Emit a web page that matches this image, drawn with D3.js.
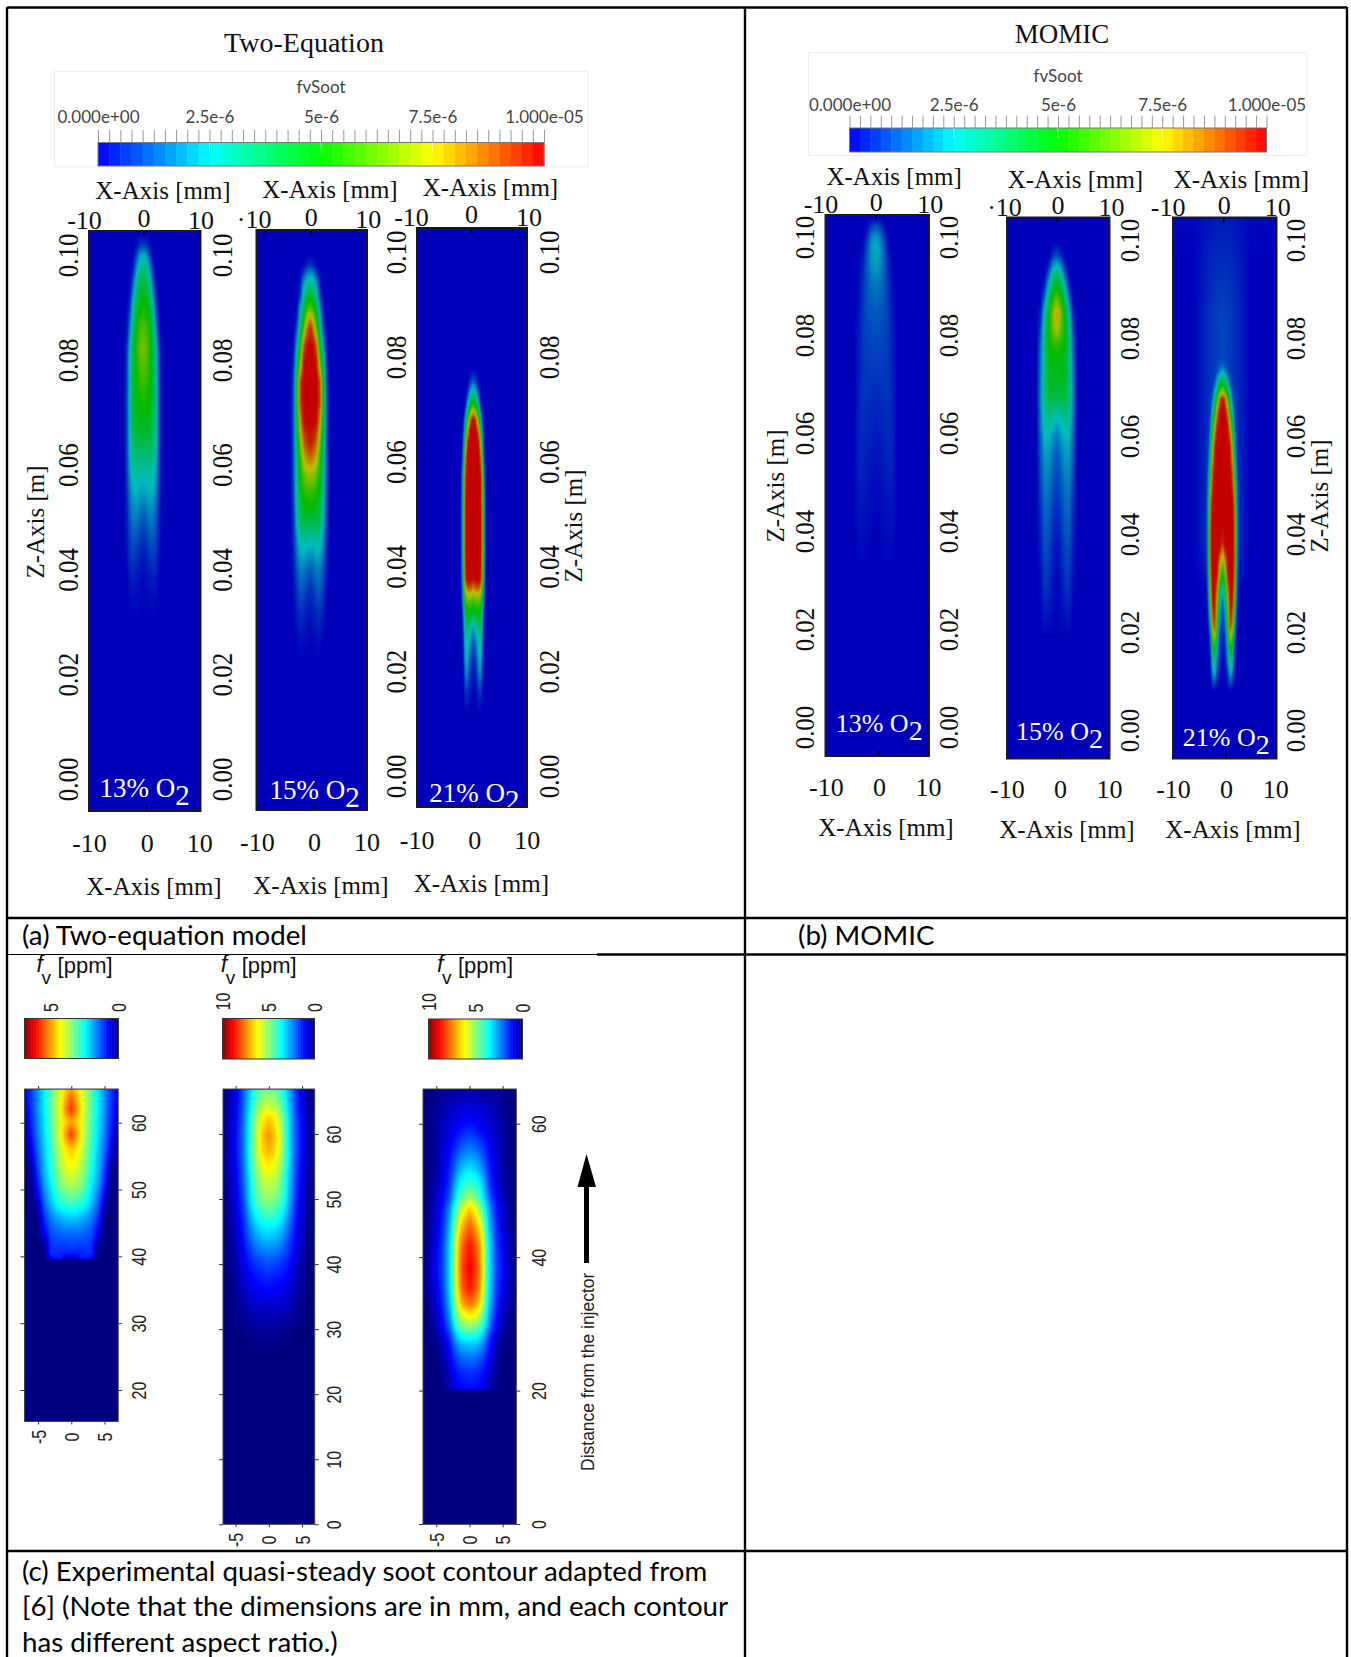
<!DOCTYPE html>
<html>
<head>
<meta charset="utf-8">
<script src="https://cdn.jsdelivr.net/npm/d3@7"></script>
<style>
  body { margin: 0; background: #fff; }
  svg { display: block; }
  text { fill: #111; }
  .serif text, text.serif { font-family: "Liberation Serif", serif; font-size: 25px; }
  .sans text, text.sans { font-family: "Liberation Sans", sans-serif; font-size: 16px; fill: #222; }
  .lato { font-family: Lato, sans-serif; font-size: 27.7px; fill: #000; }
  .legend text { font-family: Lato, sans-serif; font-size: 17px; fill: #444; }
  .domain { display: none; }
</style>
</head>
<body>
<script>
// values, soot volume fraction as a share of the colour bar
// radial stops in mm, height stops in m (model) or mm (experiment)

var legendTicks = [0, 2.5e-6, 5e-6, 7.5e-6, 1e-5];
var legendLabels = ["0.000e+00", "2.5e-6", "5e-6", "7.5e-6", "1.000e-05"];
var zTicks = [0, 0.02, 0.04, 0.06, 0.08, 0.1];
var mmTicks = [-10, 0, 10];
var o2Labels = ["13% O", "15% O", "21% O"];

var rA1 = [0, 0.6, 1.2, 1.8, 2.4, 3.0, 3.6, 4.4];
var zA1 = [.104, .102, .100, .098, .096, .093, .090, .086, .082, .078, .074, .070, .066, .062, .058, .054, .050, .046, .042, .038, .034, .030];
var vA1 = [
  [0, 0, 0, 0, 0, 0, 0, 0],
  [.08, .06, .02, 0, 0, 0, 0, 0],
  [.24, .2, .08, .01, 0, 0, 0, 0],
  [.33, .3, .17, .03, 0, 0, 0, 0],
  [.4, .37, .26, .08, 0, 0, 0, 0],
  [.46, .44, .36, .18, .02, 0, 0, 0],
  [.52, .5, .43, .29, .07, 0, 0, 0],
  [.61, .58, .5, .37, .17, .01, 0, 0],
  [.66, .63, .54, .42, .26, .05, 0, 0],
  [.6, .58, .52, .42, .27, .06, 0, 0],
  [.55, .54, .5, .42, .28, .07, 0, 0],
  [.5, .5, .48, .41, .28, .07, 0, 0],
  [.44, .44, .43, .39, .27, .07, 0, 0],
  [.35, .36, .37, .34, .24, .07, 0, 0],
  [.26, .27, .29, .28, .2, .06, 0, 0],
  [.2, .21, .23, .22, .16, .04, 0, 0],
  [.12, .14, .17, .17, .12, .03, 0, 0],
  [.07, .08, .11, .12, .09, .02, 0, 0],
  [.03, .04, .06, .08, .06, .01, 0, 0],
  [.01, .02, .03, .04, .03, 0, 0, 0],
  [0, .01, .01, .015, .01, 0, 0, 0],
  [0, 0, 0, 0, 0, 0, 0, 0]
];

var rA2 = [0, 0.6, 1.2, 1.8, 2.4, 3.0, 3.6, 4.4];
var zA2 = [.100, .098, .0965, .0945, .092, .090, .088, .086, .083, .080, .076, .072, .068, .064, .061, .058, .055, .052, .049, .046, .043, .040, .036, .032, .028, .025, .022];
var vA2 = [
  [0, 0, 0, 0, 0, 0, 0, 0],
  [.08, .05, .01, 0, 0, 0, 0, 0],
  [.2, .17, .08, .01, 0, 0, 0, 0],
  [.33, .3, .2, .03, 0, 0, 0, 0],
  [.47, .42, .3, .08, 0, 0, 0, 0],
  [.62, .55, .4, .2, .01, 0, 0, 0],
  [.82, .7, .47, .28, .04, 0, 0, 0],
  [.95, .85, .58, .35, .1, 0, 0, 0],
  [1, .98, .85, .45, .22, .01, 0, 0],
  [1, 1, .97, .6, .33, .04, 0, 0],
  [1, 1, 1, .9, .45, .09, 0, 0],
  [1, 1, 1, .92, .47, .11, 0, 0],
  [1, 1, .98, .78, .42, .11, 0, 0],
  [.96, .93, .85, .62, .38, .1, 0, 0],
  [.85, .82, .74, .55, .35, .1, 0, 0],
  [.7, .68, .62, .5, .33, .1, 0, 0],
  [.58, .57, .54, .46, .31, .09, 0, 0],
  [.5, .49, .47, .42, .28, .08, 0, 0],
  [.4, .41, .41, .38, .25, .07, 0, 0],
  [.28, .3, .32, .3, .19, .06, 0, 0],
  [.2, .21, .24, .23, .15, .04, 0, 0],
  [.12, .14, .17, .17, .11, .03, 0, 0],
  [.06, .08, .11, .12, .07, .01, 0, 0],
  [.03, .04, .06, .07, .04, 0, 0, 0],
  [.01, .02, .03, .035, .01, 0, 0, 0],
  [0, 0, .01, .01, 0, 0, 0, 0],
  [0, 0, 0, 0, 0, 0, 0, 0]
];

var rA3 = [0, 0.5, 1.0, 1.4, 1.6, 1.8, 2.0, 2.3];
var zA3 = [.0775, .0755, .074, .0725, .071, .0695, .068, .066, .064, .061, .057, .050, .044, .040, .0375, .036, .0345, .033, .031, .0295, .028, .026, .024, .022, .020, .018, .016, .014, .012];
var vA3 = [
  [0, 0, 0, 0, 0, 0, 0, 0],
  [.12, .06, 0, 0, 0, 0, 0, 0],
  [.25, .18, .03, 0, 0, 0, 0, 0],
  [.4, .3, .12, 0, 0, 0, 0, 0],
  [.55, .45, .24, .03, 0, 0, 0, 0],
  [.8, .65, .37, .14, .04, 0, 0, 0],
  [1, .9, .55, .27, .12, .02, 0, 0],
  [1, 1, .8, .42, .22, .07, 0, 0],
  [1, 1, .97, .6, .33, .13, .01, 0],
  [1, 1, 1, .85, .52, .24, .04, 0],
  [1, 1, 1, .97, .72, .42, .16, 0],
  [1, 1, 1, 1, .8, .5, .22, 0],
  [1, 1, 1, 1, .8, .5, .22, 0],
  [1, 1, 1, .98, .76, .46, .2, 0],
  [.98, 1, 1, .95, .72, .43, .18, 0],
  [.82, .9, .9, .8, .62, .36, .14, 0],
  [.68, .72, .72, .64, .5, .28, .09, 0],
  [.55, .6, .6, .54, .42, .22, .06, 0],
  [.42, .47, .49, .45, .32, .16, .03, 0],
  [.28, .36, .42, .39, .27, .12, .01, 0],
  [.18, .28, .36, .34, .23, .09, 0, 0],
  [.12, .2, .3, .3, .2, .06, 0, 0],
  [.08, .14, .26, .27, .16, .04, 0, 0],
  [.05, .1, .22, .23, .13, .02, 0, 0],
  [.03, .06, .18, .19, .09, .01, 0, 0],
  [.02, .03, .12, .13, .05, 0, 0, 0],
  [.01, .01, .06, .07, .02, 0, 0, 0],
  [0, 0, .03, .03, .01, 0, 0, 0],
  [0, 0, 0, 0, 0, 0, 0, 0]
];

var rB1 = [0, 0.8, 1.6, 2.4, 3.2, 4.0, 4.8, 6];
var zB1 = [.104, .102, .100, .098, .095, .091, .086, .080, .074, .068, .062, .056, .050, .044, .038, .032];
var vB1 = [
  [0, 0, 0, 0, 0, 0, 0, 0],
  [.12, .09, .02, 0, 0, 0, 0, 0],
  [.21, .18, .07, .01, 0, 0, 0, 0],
  [.24, .21, .11, .02, 0, 0, 0, 0],
  [.22, .2, .13, .05, .01, 0, 0, 0],
  [.17, .16, .12, .07, .02, 0, 0, 0],
  [.13, .12, .11, .08, .03, 0, 0, 0],
  [.1, .1, .09, .08, .04, .01, 0, 0],
  [.08, .08, .08, .07, .04, .01, 0, 0],
  [.06, .06, .07, .07, .05, .01, 0, 0],
  [.04, .05, .05, .06, .05, .01, 0, 0],
  [.025, .03, .04, .05, .05, .01, 0, 0],
  [.015, .02, .03, .04, .04, .01, 0, 0],
  [.01, .01, .02, .025, .025, .01, 0, 0],
  [0, 0, .01, .015, .015, 0, 0, 0],
  [0, 0, 0, 0, 0, 0, 0, 0]
];

var rB2 = [0, 0.8, 1.6, 2.4, 3.2, 4.0, 4.8, 6];
var zB2 = [.0995, .097, .095, .093, .090, .0875, .085, .082, .079, .076, .071, .068, .0655, .063, .059, .055, .050, .043, .036, .029, .0225, .019];
var vB2 = [
  [0, 0, 0, 0, 0, 0, 0, 0],
  [.1, .05, 0, 0, 0, 0, 0, 0],
  [.24, .18, .03, 0, 0, 0, 0, 0],
  [.38, .3, .12, 0, 0, 0, 0, 0],
  [.52, .44, .29, .06, 0, 0, 0, 0],
  [.66, .56, .4, .17, 0, 0, 0, 0],
  [.82, .66, .46, .27, .04, 0, 0, 0],
  [.76, .63, .49, .32, .08, 0, 0, 0],
  [.58, .55, .49, .34, .12, 0, 0, 0],
  [.5, .49, .47, .34, .14, 0, 0, 0],
  [.46, .45, .45, .34, .16, 0, 0, 0],
  [.41, .41, .43, .34, .17, 0, 0, 0],
  [.33, .34, .37, .32, .16, 0, 0, 0],
  [.23, .26, .31, .29, .15, 0, 0, 0],
  [.15, .19, .24, .24, .12, 0, 0, 0],
  [.11, .14, .2, .2, .1, 0, 0, 0],
  [.09, .11, .16, .17, .08, 0, 0, 0],
  [.05, .07, .12, .13, .05, 0, 0, 0],
  [.02, .04, .09, .1, .03, 0, 0, 0],
  [.01, .02, .06, .07, .01, 0, 0, 0],
  [0, .01, .02, .03, 0, 0, 0, 0],
  [0, 0, 0, 0, 0, 0, 0, 0]
];

var rB3 = [0, 0.5, 1, 1.5, 2, 2.3, 2.6, 2.9, 3.3, 5.5];
var zB3 = [.106, .095, .085, .076, .0745, .073, .0718, .0705, .069, .0675, .065, .062, .058, .053, .047, .042, .0385, .037, .035, .033, .031, .029, .0265, .024, .021, .019, .0165, .014, .0115, .0095, .008];
var vB3 = [
  [.03, .03, .03, .03, .03, .03, .02, .02, .02, .01],
  [.06, .06, .06, .06, .05, .05, .05, .04, .04, 0],
  [.09, .09, .08, .08, .07, .07, .06, .06, .05, 0],
  [.1, .09, .08, .08, .07, .07, .06, .06, .05, 0],
  [.14, .11, .09, .08, .07, .07, .06, .06, .05, 0],
  [.26, .2, .11, .08, .07, .07, .06, .06, .05, 0],
  [.38, .32, .2, .09, .07, .07, .06, .06, .05, 0],
  [.5, .45, .32, .13, .07, .07, .06, .06, .05, 0],
  [.75, .6, .42, .24, .09, .07, .06, .06, .05, 0],
  [1, .9, .55, .36, .13, .08, .07, .06, .05, 0],
  [1, 1, .85, .47, .27, .1, .07, .06, .05, 0],
  [1, 1, 1, .75, .42, .2, .08, .06, .05, 0],
  [1, 1, 1, .98, .62, .33, .12, .07, .05, 0],
  [1, 1, 1, 1, .88, .5, .26, .09, .05, 0],
  [1, 1, 1, 1, 1, .85, .42, .16, .05, 0],
  [1, 1, 1, 1, 1, .95, .5, .16, .05, 0],
  [.95, 1, 1, 1, 1, .95, .5, .16, .05, 0],
  [.85, .98, 1, 1, 1, .95, .5, .15, .04, 0],
  [.68, .85, 1, 1, 1, .95, .5, .15, .04, 0],
  [.55, .7, 1, 1, 1, .92, .48, .13, .03, 0],
  [.44, .58, .95, 1, 1, .88, .44, .11, .02, 0],
  [.25, .42, .85, 1, 1, .8, .38, .08, 0, 0],
  [.15, .3, .72, 1, .98, .7, .3, .05, 0, 0],
  [.1, .2, .6, 1, .9, .5, .2, .02, 0, 0],
  [.06, .12, .45, .95, .75, .3, .09, 0, 0, 0],
  [.05, .08, .32, .75, .55, .18, .03, 0, 0, 0],
  [.03, .05, .22, .52, .4, .1, .01, 0, 0, 0],
  [.02, .03, .15, .38, .28, .05, 0, 0, 0, 0],
  [.01, .01, .07, .24, .16, .02, 0, 0, 0, 0],
  [0, 0, .02, .1, .07, 0, 0, 0, 0, 0],
  [0, 0, 0, 0, 0, 0, 0, 0, 0, 0]
];

var rC1 = [0, 0.75, 1.5, 2.25, 3, 4, 5, 6, 7];
var zC1 = [65.5, 63.5, 62, 60.2, 58.2, 56, 53, 50.6, 48, 45.6, 43.6, 41.8, 40.4, 39.7, 39.3];
var vC1 = [
  [.7, .66, .6, .53, .44, .34, .25, .16, .1],
  [.8, .72, .62, .54, .45, .35, .25, .16, .09],
  [.84, .76, .63, .54, .45, .35, .25, .15, .07],
  [.72, .68, .61, .53, .44, .34, .24, .14, .03],
  [.84, .74, .62, .52, .43, .33, .23, .12, 0],
  [.68, .65, .58, .5, .41, .31, .21, .08, 0],
  [.61, .59, .54, .47, .39, .29, .17, .02, 0],
  [.55, .52, .49, .43, .35, .26, .13, 0, 0],
  [.43, .42, .4, .36, .3, .21, .05, 0, 0],
  [.3, .3, .28, .26, .23, .15, 0, 0, 0],
  [.22, .22, .22, .2, .19, .1, 0, 0, 0],
  [.18, .17, .17, .17, .16, .02, 0, 0, 0],
  [.14, .14, .14, .15, .16, 0, 0, 0, 0],
  [.06, .06, .14, .14, .1, 0, 0, 0, 0],
  [0, 0, 0, 0, 0, 0, 0, 0, 0]
];

var rC2 = [0, 1, 2, 3, 4, 5, 6, 7];
var zC2 = [67, 64.5, 62.4, 59.8, 57.3, 55.2, 53.2, 50, 47.9, 45.9, 43.3, 40.7, 38.2, 35.6, 32.5, 29.4, 26];
var vC2 = [
  [.48, .46, .4, .3, .18, .09, .03, 0],
  [.56, .54, .45, .32, .19, .1, .04, 0],
  [.68, .63, .51, .35, .2, .11, .05, .01],
  [.74, .68, .54, .36, .21, .12, .05, .01],
  [.7, .66, .53, .36, .21, .12, .05, .01],
  [.64, .61, .5, .35, .2, .11, .05, .01],
  [.58, .56, .47, .33, .19, .1, .04, .01],
  [.51, .49, .43, .31, .17, .09, .03, 0],
  [.44, .42, .37, .27, .15, .08, .02, 0],
  [.36, .35, .31, .23, .13, .07, .02, 0],
  [.28, .27, .24, .18, .11, .06, .01, 0],
  [.2, .19, .17, .14, .09, .04, .01, 0],
  [.15, .14, .13, .1, .07, .03, 0, 0],
  [.1, .1, .09, .07, .05, .02, 0, 0],
  [.05, .05, .05, .04, .02, .01, 0, 0],
  [.02, .02, .015, .01, 0, 0, 0, 0],
  [0, 0, 0, 0, 0, 0, 0, 0]
];

var rC3 = [0, 1, 1.5, 2, 2.5, 3, 4, 5, 6.5, 7.2];
var zC3 = [65.2, 62, 60, 58, 56, 53.5, 51, 49, 47.5, 45, 42, 38.3, 35.3, 33, 31.3, 29.8, 28.3, 26.8, 24.8, 22.8, 20.3, 19.9];
var vC3 = [
  [.03, .03, .03, .02, .02, .02, .02, .01, 0, 0],
  [.09, .08, .08, .07, .07, .06, .04, .02, 0, 0],
  [.12, .11, .1, .09, .08, .07, .05, .03, 0, 0],
  [.18, .16, .14, .13, .11, .09, .06, .03, 0, 0],
  [.24, .22, .2, .17, .14, .11, .07, .03, 0, 0],
  [.33, .3, .27, .23, .18, .13, .08, .03, 0, 0],
  [.42, .39, .35, .3, .23, .16, .09, .04, 0, 0],
  [.53, .47, .42, .35, .27, .19, .11, .05, 0, 0],
  [.67, .58, .5, .42, .33, .24, .13, .06, 0, 0],
  [.78, .7, .62, .52, .39, .28, .15, .07, .01, 0],
  [.87, .79, .72, .6, .43, .32, .17, .09, .01, 0],
  [.9, .83, .75, .62, .44, .33, .18, .11, .02, 0],
  [.87, .8, .72, .6, .43, .32, .17, .09, .02, 0],
  [.77, .72, .65, .54, .4, .29, .15, .07, .01, 0],
  [.64, .6, .54, .46, .36, .25, .13, .05, 0, 0],
  [.52, .5, .46, .4, .31, .22, .11, .04, 0, 0],
  [.4, .38, .35, .31, .24, .16, .08, .02, 0, 0],
  [.3, .29, .27, .23, .18, .12, .05, .01, 0, 0],
  [.22, .21, .19, .17, .13, .09, .03, 0, 0, 0],
  [.16, .15, .14, .12, .1, .06, .02, 0, 0, 0],
  [.12, .11, .1, .09, .07, .04, .01, 0, 0, 0],
  [0, 0, 0, 0, 0, 0, 0, 0, 0, 0]
];

// colours
var rainbowStops = [0, .25, .5, .75, 1];
var rainbowBar = d3.scaleLinear().domain(rainbowStops).range(["#0000ff", "#00ffff", "#00ff00", "#ffff00", "#ff0000"]);
var rainbowCell = d3.scaleLinear().domain(rainbowStops).range(["#0000bb", "#00bcc0", "#00bb00", "#c0c000", "#c40000"]).clamp(true);
var jet = d3.scaleLinear().domain([0, .11, .36, .625, .89, 1]).range(["#00007f", "#0000ff", "#00ffff", "#ffff00", "#ff0000", "#7f0000"]).clamp(true);

var svg = d3.select("body").append("svg").attr("width", 1351).attr("height", 1657);

// table grid
var grid = [[7, 7, 7, 1657], [745, 7, 745, 1657], [1347, 7, 1347, 1657], [7, 7.5, 1347, 7.5], [7, 918, 1347, 918], [597, 954.5, 1347, 954.5], [7, 1551, 1347, 1551]];
svg.append("g").selectAll("line").data(grid).enter().append("line")
  .attr("x1", d => d[0]).attr("y1", d => d[1]).attr("x2", d => d[2]).attr("y2", d => d[3])
  .attr("stroke", "#000").attr("stroke-width", 2.4);
svg.append("line").attr("x1", 7).attr("x2", 597).attr("y1", 954.5).attr("y2", 954.5).attr("stroke", "#000").attr("stroke-width", 1.2);

var captions = [
  ["(a) Two-equation model", 22, 945],
  ["(b) MOMIC", 798, 945],
  ["(c) Experimental quasi-steady soot contour adapted from", 22, 1581],
  ["[6] (Note that the dimensions are in mm, and each contour", 22, 1616],
  ["has different aspect ratio.)", 22, 1652]
];
svg.append("g").selectAll("text").data(captions).enter().append("text").attr("class", "lato")
  .attr("x", d => d[1]).attr("y", d => d[2]).text(d => d[0]);

// soot field: bilinear lookup in the (r, z) table
function sampler(rs, zs, rows) {
  var zAsc = zs.slice().reverse(), rowsAsc = rows.slice().reverse();
  var last = zAsc.length - 1, lastR = rs.length - 1;
  return function (r, z) {
    if (z <= zAsc[0]) return 0;
    if (z >= zAsc[last]) return lookup(r, last, last, 0);
    var i = Math.max(1, d3.bisectLeft(zAsc, z));
    return lookup(r, i - 1, i, (z - zAsc[i - 1]) / (zAsc[i] - zAsc[i - 1]));
  };
  function lookup(r, a, b, t) {
    if (r >= rs[lastR]) return (1 - t) * rowsAsc[a][lastR] + t * rowsAsc[b][lastR];
    var j = Math.max(1, d3.bisectLeft(rs, r));
    var s = (r - rs[j - 1]) / (rs[j] - rs[j - 1]);
    var lo = rowsAsc[a][j - 1] * (1 - s) + rowsAsc[a][j] * s;
    var hi = rowsAsc[b][j - 1] * (1 - s) + rowsAsc[b][j] * s;
    return lo * (1 - t) + hi * t;
  }
}

function drawField(p, id) {
  var ss = 2;
  var w = Math.round(p.x1 - p.x0), h = Math.round(p.y1 - p.y0);
  var xs = d3.scaleLinear().domain([-10, 10]).range([p.c - p.half, p.c + p.half]);
  var ys = d3.scaleLinear().domain(p.zDomain).range(p.zRange);
  var f = sampler(p.r, p.z, p.v);
  var table = d3.range(256).map(i => d3.rgb(p.color(i / 255)));
  var raw = document.createElement("canvas");
  raw.width = w * ss; raw.height = h * ss;
  var ctx = raw.getContext("2d");
  var img = ctx.createImageData(raw.width, raw.height);
  for (var py = 0; py < raw.height; py++) {
    var z = ys.invert(p.y0 + (py + .5) / ss);
    for (var px = 0; px < raw.width; px++) {
      var r = Math.abs(xs.invert(p.x0 + (px + .5) / ss));
      var c = table[Math.max(0, Math.min(255, Math.round(f(r, z) * 255)))];
      var k = (py * raw.width + px) * 4;
      img.data[k] = c.r; img.data[k + 1] = c.g; img.data[k + 2] = c.b; img.data[k + 3] = 255;
    }
  }
  ctx.putImageData(img, 0, 0);
  var out = document.createElement("canvas");
  out.width = raw.width; out.height = raw.height;
  var octx = out.getContext("2d");
  octx.fillStyle = p.color(0);
  octx.fillRect(0, 0, out.width, out.height);
  octx.filter = "blur(" + p.blur + "px)";
  octx.drawImage(raw, 0, 0);
  svg.append("image").attr("href", out.toDataURL()).attr("x", p.x0).attr("y", p.y0).attr("width", p.x1 - p.x0).attr("height", p.y1 - p.y0)
    .attr("preserveAspectRatio", "none");
  svg.append("clipPath").attr("id", id).append("rect").attr("x", p.x0).attr("y", p.y0).attr("width", p.x1 - p.x0).attr("height", p.y1 - p.y0);
}

// ---- model panels ----
var modelPanels = [
  { r: rA1, z: zA1, v: vA1, x0: 89, x1: 200.5, y0: 231, y1: 811, c: 143.3, half: 55.5, zDomain: [0, .1], zRange: [779, 255],
    top: [84, 143.6, 200.6], topY: [220, 218, 220], topLab: ["-10", "0", "10"], bot: [89, 146.7, 199.3], botY: 843,
    axisTop: [163, 190.5], axisBot: [154, 887], o2: [99.5, 797], o2Size: 27 },
  { r: rA2, z: zA2, v: vA2, x0: 256.5, x1: 367, y0: 230, y1: 810, c: 310.3, half: 55.5, zDomain: [0, .1], zRange: [779, 255],
    top: [253.6, 310.7, 367.7], topY: [219, 217, 219], topLab: ["\u00b710", "0", "10"], bot: [256.8, 313.9, 366.4], botY: 842,
    axisTop: [330, 190], axisBot: [321, 886], o2: [269.5, 799], o2Size: 27 },
  { r: rA3, z: zA3, v: vA3, x0: 417, x1: 527, y0: 228, y1: 807, c: 473.3, half: 55.5, zDomain: [0, .1], zRange: [776, 252],
    top: [411, 471, 528.5], topY: [217, 214, 217], topLab: ["-10", "0", "10"], bot: [416.7, 474.2, 526.7], botY: 840,
    axisTop: [490.5, 187.5], axisBot: [481.4, 884], o2: [429.3, 801.5], o2Size: 27 },
  { r: rB1, z: zB1, v: vB1, x0: 825.5, x1: 929, y0: 215, y1: 756, c: 876, half: 51.5, zDomain: [0, .1], zRange: [727, 237],
    top: [820.5, 875.8, 929.8], topY: [204, 202, 204], topLab: ["-10", "0", "10"], bot: [825.8, 879, 928], botY: 786.5,
    axisTop: [894.2, 177], axisBot: [886, 827.5], o2: [835.7, 732], o2Size: 26 },
  { r: rB2, z: zB2, v: vB2, x0: 1007, x1: 1109.5, y0: 217.5, y1: 758.5, c: 1057, half: 51.5, zDomain: [0, .1], zRange: [730, 240],
    top: [1004, 1057.5, 1111], topY: [207, 204.7, 206.7], topLab: ["\u00b710", "0", "10"], bot: [1006.8, 1060, 1109], botY: 789,
    axisTop: [1075.5, 180], axisBot: [1067, 830], o2: [1016, 740], o2Size: 26 },
  { r: rB3, z: zB3, v: vB3, x0: 1173, x1: 1276.5, y0: 217.5, y1: 758.5, c: 1222.7, half: 51.5, zDomain: [0, .1], zRange: [730, 240],
    top: [1167.6, 1223.7, 1277.3], topY: [207, 204.7, 206.7], topLab: ["-10", "0", "10"], bot: [1173, 1226, 1275.3], botY: 789,
    axisTop: [1241.3, 180], axisBot: [1233, 830], o2: [1182.8, 746], o2Size: 26 }
];

modelPanels.forEach(function (p, i) {
  p.color = rainbowCell; p.blur = 1.1;
  var clip = "clip" + i;
  drawField(p, clip);
  var g = svg.append("g").attr("class", "serif");

  // tick labels above, each one sits at its own height in the picture
  var topX = d3.scaleLinear().domain(mmTicks).range(p.top);
  g.append("g").call(d3.axisTop(topX).tickValues(mmTicks).tickSize(0).tickFormat((d, k) => p.topLab[k]))
    .selectAll("text").attr("y", (d, k) => p.topY[k]).attr("dy", ".35em").style("font-size", "26px").style("font-family", "Liberation Serif");
  var botX = d3.scaleLinear().domain(mmTicks).range(p.bot);
  g.append("g").call(d3.axisBottom(botX).tickValues(mmTicks).tickSize(0).tickFormat(d => String(d)))
    .selectAll("text").attr("y", p.botY).attr("dy", ".35em").style("font-size", "26px").style("font-family", "Liberation Serif");

  g.append("line").attr("x1", topX(0)).attr("x2", topX(0)).attr("y1", p.y0).attr("y2", p.y0 + 5).attr("stroke", "#000").attr("stroke-width", 1.6);
  g.append("line").attr("x1", botX(0)).attr("x2", botX(0)).attr("y1", p.y1 - 5).attr("y2", p.y1).attr("stroke", "#000").attr("stroke-width", 1.6);

  g.append("text").attr("x", p.axisTop[0]).attr("y", p.axisTop[1]).attr("dy", ".32em").attr("text-anchor", "middle").text("X-Axis [mm]");
  g.append("text").attr("x", p.axisBot[0]).attr("y", p.axisBot[1]).attr("dy", ".32em").attr("text-anchor", "middle").text("X-Axis [mm]");

  g.append("rect").attr("x", p.x0).attr("y", p.y0).attr("width", p.x1 - p.x0).attr("height", p.y1 - p.y0)
    .attr("fill", "none").attr("stroke", "#1a1a1a").attr("stroke-width", 2);

  var lab = svg.append("text").attr("class", "serif").attr("clip-path", "url(#" + clip + ")")
    .attr("x", p.o2[0]).attr("y", p.o2[1]).style("font-size", p.o2Size + "px").style("fill", "#fff").text(o2Labels[i % 3]);
  lab.append("tspan").attr("dy", 8).style("fill", "#fff").style("font-size", (p.o2Size + 2) + "px").text("2");
});

// z tick columns, rotated; the source image is stretched sideways so the glyphs are too
var zColumns = [
  [67.5, [779, 255], 1.18], [222, [779, 255], 1.18], [396, [776, 252], 1.18], [549, [776, 252], 1.18],
  [804, [727, 237], 1.1], [948, [727, 237], 1.1], [1129.5, [730, 240], 1.1], [1295, [730, 240], 1.1]
];
zColumns.forEach(function (col) {
  var y = d3.scaleLinear().domain([0, .1]).range(col[1]);
  svg.append("g").attr("class", "serif").attr("transform", "translate(" + col[0] + ",0)")
    .call(d3.axisLeft(y).tickValues(zTicks).tickSize(0).tickFormat(d3.format(".2f")))
    .selectAll("text").attr("x", 0).attr("y", 0).attr("dy", ".35em").attr("text-anchor", "middle")
    .attr("transform", "rotate(-90) scale(1," + col[2] + ")")
    .style("font-size", "25px").style("font-family", "Liberation Serif");
});

var zAxisLabels = [[36, 522], [574, 526], [775.5, 486], [1320, 496]];
svg.append("g").selectAll("text").data(zAxisLabels).enter().append("text").attr("class", "serif")
  .attr("text-anchor", "middle").attr("dy", ".32em")
  .attr("transform", d => "translate(" + d[0] + "," + d[1] + ") rotate(-90)").text("Z-Axis [m]");

// titles
svg.append("text").attr("class", "serif").attr("x", 304).attr("y", 43).attr("dy", ".32em").attr("text-anchor", "middle").style("font-size", "28px").text("Two-Equation");
svg.append("text").attr("class", "serif").attr("x", 1062).attr("y", 34).attr("dy", ".32em").attr("text-anchor", "middle").style("font-size", "27px").text("MOMIC");

// ParaView colour legends
function drawLegend(b) {
  var g = svg.append("g").attr("class", "legend");
  g.append("rect").attr("x", b.box[0]).attr("y", b.box[1]).attr("width", b.box[2] - b.box[0]).attr("height", b.box[3] - b.box[1])
    .attr("fill", "#fff").attr("stroke", "#eee");
  var x = d3.scaleLinear().domain([0, 1e-5]).range([b.x0, b.x1]);
  var bands = d3.range(40);
  g.selectAll(".band").data(bands).enter().append("rect")
    .attr("x", d => x(d * .25e-6)).attr("y", b.y0)
    .attr("width", x(.25e-6) - x(0) + .5).attr("height", b.y1 - b.y0)
    .attr("fill", d => rainbowBar((d + .5) / 40));
  g.append("rect").attr("x", b.x0).attr("y", b.y0).attr("width", b.x1 - b.x0).attr("height", b.y1 - b.y0).attr("fill", "none").attr("stroke", "#777");
  var minor = g.append("g").attr("transform", "translate(0," + b.y0 + ")")
    .call(d3.axisTop(x).tickValues(d3.range(41).map(d => d * .25e-6)).tickSize(12.5).tickFormat(""));
  minor.selectAll("line").attr("stroke", "#999");
  // major ticks run on into the bar
  g.selectAll(".major").data(legendTicks.slice(1, 4)).enter().append("line")
    .attr("x1", d => x(d)).attr("x2", d => x(d)).attr("y1", b.y0).attr("y2", b.y0 + 10).attr("stroke", "#fff").attr("stroke-opacity", .5);
  var major = g.append("g").attr("transform", "translate(0," + b.y0 + ")")
    .call(d3.axisTop(x).tickValues(legendTicks).tickSize(0).tickFormat((d, i) => legendLabels[i]));
  major.selectAll("text").attr("y", b.labY - b.y0).attr("dy", ".35em");
  g.append("text").attr("x", x(5e-6)).attr("y", b.titleY).attr("dy", ".35em").attr("text-anchor", "middle").text("fvSoot");
}
drawLegend({ box: [54.5, 71.5, 588, 167], x0: 98, x1: 544, y0: 142.5, y1: 166, labY: 117, titleY: 87 });
drawLegend({ box: [808.5, 52.5, 1307, 155.5], x0: 849.5, x1: 1266.5, y0: 128, y1: 152, labY: 105.5, titleY: 76.5 });

// ---- experimental panels ----
var expPanels = [
  { r: rC1, z: zC1, v: vC1, x0: 24.5, x1: 118.2, y0: 1089, y1: 1421.5, c: 71.3, half: 67.5, zDomain: [20, 60], zRange: [1390, 1122.7],
    ticks: [20, 30, 40, 50, 60], labX: 138.8, xLabY: 1437,
    bar: [24.5, 118.5, 1018.5, 1058.5], barMax: 6.94, barTicks: [0, 5], head: 39.6 },
  { r: rC2, z: zC2, v: vC2, x0: 223, x1: 314.7, y0: 1089, y1: 1524.3, c: 268.8, half: 65.5, zDomain: [0, 60], zRange: [1524.3, 1134],
    ticks: [0, 10, 20, 30, 40, 50, 60], labX: 334, xLabY: 1540,
    bar: [222.5, 314.5, 1018.5, 1059], barMax: 10, barTicks: [0, 5, 10], head: 223.7 },
  { r: rC3, z: zC3, v: vC3, x0: 423, x1: 516.3, y0: 1089, y1: 1524.3, c: 469.5, half: 67, zDomain: [0, 60], zRange: [1524, 1123.7],
    ticks: [0, 20, 40, 60], labX: 539, xLabY: 1540,
    bar: [428.5, 522.5, 1019, 1059], barMax: 10, barTicks: [0, 5, 10], head: 440 }
];

expPanels.forEach(function (p, i) {
  p.color = jet; p.blur = 1.4;
  drawField(p, "clipC" + i);
  var g = svg.append("g").attr("class", "sans");
  var xs = d3.scaleLinear().domain([-5, 5]).range([p.c - 33.2, p.c + 33.2]);
  var ys = d3.scaleLinear().domain(p.zDomain).range(p.zRange);

  g.append("rect").attr("x", p.x0).attr("y", p.y0).attr("width", p.x1 - p.x0).attr("height", p.y1 - p.y0)
    .attr("fill", "none").attr("stroke", "#444").attr("stroke-width", 1);

  // mm ticks on top and bottom
  g.append("g").attr("transform", "translate(0," + p.y0 + ")").call(d3.axisTop(xs).tickValues([-5, 0, 5]).tickSize(3).tickFormat(""));
  var bottom = g.append("g").attr("transform", "translate(0," + p.y1 + ")").call(d3.axisBottom(xs).tickValues([-5, 0, 5]).tickSize(3).tickFormat(d => String(d)));
  bottom.selectAll("text").attr("x", 0).attr("y", 0).attr("dy", ".35em").attr("text-anchor", "middle")
    .attr("transform", "translate(0," + (p.xLabY - p.y1) + ") rotate(-90) scale(1,1.25)");

  // height ticks on both sides
  g.append("g").attr("transform", "translate(" + p.x0 + ",0)").call(d3.axisLeft(ys).tickValues(p.ticks).tickSize(4).tickFormat(""));
  var right = g.append("g").attr("transform", "translate(" + p.x1 + ",0)").call(d3.axisRight(ys).tickValues(p.ticks).tickSize(4));
  right.selectAll("text").attr("x", 0).attr("y", 0).attr("dy", ".35em").attr("text-anchor", "middle")
    .attr("transform", "translate(" + (p.labX - p.x1) + ",0) rotate(-90) scale(1,1.25)");
  g.selectAll("line").attr("stroke", "#333");

  // jet colour bar, zero on the right
  var bx = d3.scaleLinear().domain([0, p.barMax]).range([p.bar[1], p.bar[0]]);
  var steps = d3.range(128);
  g.selectAll(".cell").data(steps).enter().append("rect")
    .attr("x", d => bx((d + 1) / 128 * p.barMax)).attr("y", p.bar[2])
    .attr("width", (p.bar[1] - p.bar[0]) / 128 + .5).attr("height", p.bar[3] - p.bar[2])
    .attr("fill", d => jet((d + .5) / 128));
  g.append("rect").attr("x", p.bar[0]).attr("y", p.bar[2]).attr("width", p.bar[1] - p.bar[0]).attr("height", p.bar[3] - p.bar[2])
    .attr("fill", "none").attr("stroke", "#333");
  var barAxis = g.append("g").attr("transform", "translate(0," + p.bar[2] + ")")
    .call(d3.axisTop(bx).tickValues(p.barTicks).tickSize(0).tickFormat(d => String(d)));
  barAxis.selectAll("text").attr("x", 0).attr("y", 0).attr("dy", ".35em").attr("text-anchor", "middle")
    .attr("transform", d => "translate(0," + (d === 10 ? -17 : -11) + ") rotate(-90) scale(1,1.25)");

  // f_v [ppm] heading
  var h = svg.append("g");
  h.append("text").attr("class", "sans").attr("x", p.head - 3).attr("y", 972).style("font-size", "23px").style("font-style", "italic").style("fill", "#111").text("f");
  h.append("text").attr("class", "sans").attr("x", p.head + 2).attr("y", 984).style("font-size", "19px").style("fill", "#111").text("v");
  h.append("text").attr("class", "sans").attr("x", p.head + 18).attr("y", 973).style("font-size", "22px").style("fill", "#111").text("[ppm]");
});

// direction arrow
var arrow = svg.append("g");
arrow.append("line").attr("x1", 586.5).attr("x2", 586.5).attr("y1", 1186).attr("y2", 1263).attr("stroke", "#000").attr("stroke-width", 5);
arrow.append("path").attr("d", d3.line()([[586.5, 1154], [596, 1187], [577.5, 1187]]) + "Z").attr("fill", "#000");
svg.append("text").attr("class", "sans").attr("text-anchor", "start").attr("dy", ".35em")
  .attr("transform", "translate(587.5,1471) rotate(-90)").style("font-size", "17.5px").text("Distance from the injector");
</script>
</body>
</html>
